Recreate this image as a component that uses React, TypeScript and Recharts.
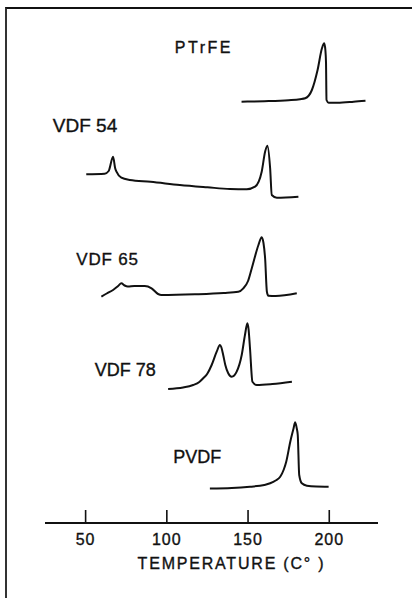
import React from 'react'
import { ComposedChart, Line, XAxis, YAxis, ReferenceDot } from 'recharts'

// DSC melting traces, [temperature °C, heat flow (arb. units above baseline)]
const ptrfe: [number, number][] = [
  [146, 0], [160, 0.5], [175, 1.5], [182, 2.5], [185.2, 3.4], [189.3, 11.7], [192.8, 31.7],
  [195.5, 53.4], [196.9, 58.4], [197.6, 51.7], [198, 38.7], [198.3, 1.7], [199.6, -1],
  [205, -1], [215, 0], [222.3, 1],
]

const vdf54: [number, number][] = [
  [50.4, 0], [61.7, 0.6], [64.2, 3.3], [66.9, 17.6], [68.2, 6], [69, 2.6], [72, -3.4],
  [77.2, -5.7], [90, -7.5], [108, -10.7], [125, -13], [138.9, -14.7], [149.2, -15],
  [154.3, -12.4], [158.4, 2.6], [160.5, 22.6], [161.9, 28.6], [163.6, 6], [164.6, -20.7],
  [167.7, -23.4], [181, -22.4],
]

const vdf65: [number, number][] = [
  [59.7, -1.7], [63, 1.5], [66.9, 5], [70, 9], [72, 11.7], [74, 9.5], [76, 8.5], [80, 9],
  [86.4, 9], [90.6, 6.7], [94.6, 1], [96.7, 0], [117.3, 0.7], [135, 2], [144, 3.3],
  [147.1, 6.7], [150, 14], [152.3, 26.7], [156.4, 50], [158.4, 57.7], [159.5, 52],
  [160.5, 36.7], [161.6, 3.3], [162.5, -0.7], [167, -1], [180, 1.7],
]

const vdf78: [number, number][] = [
  [100.8, 0], [110, 1.5], [116.2, 4], [120, 7], [122.4, 10.7], [125, 15.5], [127.6, 24],
  [130.7, 37.3], [132.7, 44], [133.5, 42], [134.7, 34], [136, 24], [137.8, 15.7],
  [139.9, 12.3], [141.5, 13.5], [143, 17.3], [146.1, 34], [148.1, 54], [149.6, 65.7],
  [150.3, 60], [151.2, 40.7], [152.7, 7.3], [155.4, 4], [165, 5], [177, 7.3],
]

const pvdf: [number, number][] = [
  [126.5, 0], [140, 0.5], [151.2, 1.8], [160, 3.5], [163.6, 5.2], [167, 8], [169.8, 11.8],
  [172, 19], [173.5, 26.8], [176, 46.8], [178, 60], [179, 66.2], [180, 60], [180.6, 53.5],
  [181.5, 13.5], [183.1, 5.2], [186.2, 2.8], [192, 2], [199.6, 1.8],
]

const tempTicks = [50, 100, 150, 200]

// each trace sits on its own hidden y axis; baseline = pixel row of its zero line
const traces = [
  { id: 'ptrfe', name: 'PTrFE', points: ptrfe, baseline: 101.7, tag: [104.9, 54.7], size: 16, spacing: 2.5 },
  { id: 'vdf54', name: 'VDF 54', points: vdf54, baseline: 174.3, tag: [29.8, 49.3], size: 19, spacing: 0 },
  { id: 'vdf65', name: 'VDF 65', points: vdf65, baseline: 295, tag: [44.3, 36], size: 17, spacing: 0.8 },
  { id: 'vdf78', name: 'VDF 78', points: vdf78, baseline: 389, tag: [55.6, 19], size: 18, spacing: 0 },
  { id: 'pvdf', name: 'PVDF', points: pvdf, baseline: 488.5, tag: [103.9, 31.5], size: 18, spacing: 0 },
]

const W = 412
const H = 598
const PLOT_TOP = 20
const PLOT_BOTTOM = 523
const INK = '#111'
const FONT = '"Liberation Sans", Arial, Helvetica, sans-serif'

// slightly heavier lettering, like the inked originals
const textInk = { fill: INK, stroke: INK, strokeWidth: 0.35, fontFamily: FONT }

const TempTick = (props: any) => {
  const { x, y, payload } = props
  return (
    <g>
      <line x1={x} x2={x} y1={y - 13} y2={y} stroke={INK} strokeWidth={1.6} />
      <text x={x} y={y + 16} textAnchor="middle" dominantBaseline="central"
        fontSize={16} letterSpacing={1} {...textInk}>
        {payload.value}
      </text>
    </g>
  )
}

export default function App() {
  return (
    <div style={{ position: 'absolute', left: 0, top: 0, width: W, height: H, background: '#fff' }}>
      <div style={{
        position: 'absolute', left: 5, top: 7, width: W, height: H,
        borderTop: `2px solid ${INK}`, borderLeft: `2px solid #333`,
      }} />
      <ComposedChart width={W} height={H}
        margin={{ top: PLOT_TOP, right: 34, bottom: 15, left: 45 }}
        style={{ position: 'absolute', left: 0, top: 0 }}>
        <XAxis type="number" dataKey="t" domain={[25, 230]} ticks={tempTicks}
          allowDataOverflow height={H - PLOT_BOTTOM - 15}
          axisLine={{ stroke: INK, strokeWidth: 2 }} tickLine={false}
          tickSize={0} tickMargin={0} tick={<TempTick />}
          label={{
            content: (p: any) => {
              const vb = p.viewBox
              return (
                <text x={vb.x + vb.width / 2 + 20} y={vb.y + 40} textAnchor="middle"
                  dominantBaseline="central" fontSize={16} letterSpacing={1.8} {...textInk}>
                  TEMPERATURE (C° )
                </text>
              )
            },
          }}
        />
        {traces.map((tr) => (
          <YAxis key={tr.id} yAxisId={tr.id} hide type="number" allowDataOverflow
            domain={[-(PLOT_BOTTOM - tr.baseline), tr.baseline - PLOT_TOP]} />
        ))}
        {traces.map((tr) => (
          <Line key={tr.id} yAxisId={tr.id} data={tr.points.map(([t, v]) => ({ t, v }))}
            dataKey="v" type="monotone" stroke={INK} strokeWidth={2} dot={false}
            isAnimationActive={false} />
        ))}
        {traces.map((tr) => (
          <ReferenceDot key={tr.id + '-tag'} yAxisId={tr.id} x={tr.tag[0]} y={tr.tag[1]}
            r={0} stroke="none" fill="none"
            label={{
              content: (p: any) => (
                <text x={p.viewBox.x} y={p.viewBox.y} dominantBaseline="central"
                  fontSize={tr.size} letterSpacing={tr.spacing} {...textInk}>
                  {tr.name}
                </text>
              ),
            }}
          />
        ))}
      </ComposedChart>
    </div>
  )
}
